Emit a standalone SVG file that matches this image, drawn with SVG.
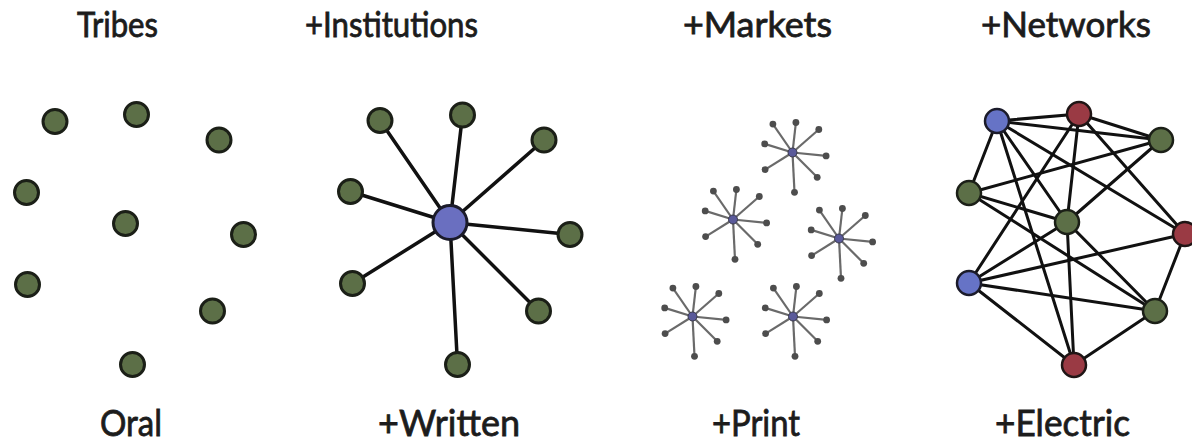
<svg xmlns="http://www.w3.org/2000/svg" width="1192" height="444" viewBox="0 0 1192 444">
<style>
.lbl{font-family:Lato,"Open Sans","Liberation Sans",sans-serif;fill:#1c1c1c;stroke:#1c1c1c;stroke-width:0.8;text-anchor:middle}
.top{font-size:34px}
.bot{font-size:37px}
.g{fill:#5c6f47;stroke:#1b1f17;stroke-width:3}
.b{fill:#6a6fc0;stroke:#1b1b2a;stroke-width:3}
.r{fill:#9a3a44;stroke:#1f1515;stroke-width:2.5}
.gn{fill:#5c6f47;stroke:#1b1f17;stroke-width:2.5}
.bn{fill:#6673c6;stroke:#1b1b2a;stroke-width:2.5}
.e{stroke:#111;stroke-width:3.5;stroke-linecap:round}
.en{stroke:#111;stroke-width:3;stroke-linecap:round}
.se{stroke:#6a6a6a;stroke-width:2.2}
.sd{fill:#4d4d4d}
.sc{fill:#5a5a9a;stroke:#3a3a4a;stroke-width:1}
</style>
<defs>
<g id="star">
<line class="se" x1="0" y1="0" x2="-19.6" y2="-28.4"/>
<line class="se" x1="0" y1="0" x2="3.4" y2="-30"/>
<line class="se" x1="0" y1="0" x2="26.3" y2="-23"/>
<line class="se" x1="0" y1="0" x2="-27.8" y2="-8.6"/>
<line class="se" x1="0" y1="0" x2="33.6" y2="3.4"/>
<line class="se" x1="0" y1="0" x2="-27.4" y2="17.1"/>
<line class="se" x1="0" y1="0" x2="24.7" y2="24.8"/>
<line class="se" x1="0" y1="0" x2="2" y2="39.8"/>
<circle class="sd" cx="-19.6" cy="-28.4" r="3.4"/>
<circle class="sd" cx="3.4" cy="-30" r="3.4"/>
<circle class="sd" cx="26.3" cy="-23" r="3.4"/>
<circle class="sd" cx="-27.8" cy="-8.6" r="3.4"/>
<circle class="sd" cx="33.6" cy="3.4" r="3.4"/>
<circle class="sd" cx="-27.4" cy="17.1" r="3.4"/>
<circle class="sd" cx="24.7" cy="24.8" r="3.4"/>
<circle class="sd" cx="2" cy="39.8" r="3.4"/>
<circle class="sc" cx="0" cy="0" r="4.5"/>
</g>
</defs>
<rect width="1192" height="444" fill="#fff"/>

<g id="labels">
<text class="lbl top" x="117.5" y="37" textLength="81" lengthAdjust="spacingAndGlyphs">Tribes</text>
<text class="lbl top" x="391.5" y="37" textLength="173" lengthAdjust="spacingAndGlyphs">+Institutions</text>
<text class="lbl top" x="757.5" y="37" textLength="149" lengthAdjust="spacingAndGlyphs">+Markets</text>
<text class="lbl top" x="1066" y="37" textLength="170" lengthAdjust="spacingAndGlyphs">+Networks</text>
<text class="lbl bot" x="131" y="436" textLength="62" lengthAdjust="spacingAndGlyphs">Oral</text>
<text class="lbl bot" x="449" y="436" textLength="142" lengthAdjust="spacingAndGlyphs">+Written</text>
<text class="lbl bot" x="756" y="436" textLength="88" lengthAdjust="spacingAndGlyphs">+Print</text>
<text class="lbl bot" x="1062.5" y="436" textLength="135" lengthAdjust="spacingAndGlyphs">+Electric</text>
</g>

<g id="tribes">
<circle class="g" cx="55" cy="121.5" r="12"/>
<circle class="g" cx="136.5" cy="114.5" r="12"/>
<circle class="g" cx="219" cy="140" r="12"/>
<circle class="g" cx="26.5" cy="192.5" r="12"/>
<circle class="g" cx="125.5" cy="223.5" r="12"/>
<circle class="g" cx="243.5" cy="234.5" r="12"/>
<circle class="g" cx="27.5" cy="284.5" r="12"/>
<circle class="g" cx="212.5" cy="311" r="12"/>
<circle class="g" cx="132.5" cy="364.5" r="12"/>
</g>

<g id="institutions-connectors">
<line class="e" x1="450" y1="222.5" x2="380" y2="120.5"/>
<line class="e" x1="450" y1="222.5" x2="462.5" y2="115"/>
<line class="e" x1="450" y1="222.5" x2="544" y2="140"/>
<line class="e" x1="450" y1="222.5" x2="350.5" y2="191.5"/>
<line class="e" x1="450" y1="222.5" x2="570" y2="234.5"/>
<line class="e" x1="450" y1="222.5" x2="352.5" y2="283.5"/>
<line class="e" x1="450" y1="222.5" x2="538.5" y2="311"/>
<line class="e" x1="450" y1="222.5" x2="457.5" y2="364.5"/>
</g>
<g id="institutions">
<circle class="g" cx="380" cy="120.5" r="12"/>
<circle class="g" cx="462.5" cy="115" r="12"/>
<circle class="g" cx="544" cy="140" r="12"/>
<circle class="g" cx="350.5" cy="191.5" r="12"/>
<circle class="g" cx="570" cy="234.5" r="12"/>
<circle class="g" cx="352.5" cy="283.5" r="12"/>
<circle class="g" cx="538.5" cy="311" r="12"/>
<circle class="g" cx="457.5" cy="364.5" r="12"/>
<circle class="b" cx="450" cy="222.5" r="17"/>
</g>

<g id="markets">
<use href="#star" x="792.5" y="152.5"/>
<use href="#star" x="733" y="219.5"/>
<use href="#star" x="839" y="238.5"/>
<use href="#star" x="692.5" y="316.5"/>
<use href="#star" x="793" y="316.5"/>
</g>

<g id="network-connectors">
<line class="en" x1="997" y1="121" x2="1079" y2="114"/>
<line class="en" x1="997" y1="121" x2="1161" y2="140"/>
<line class="en" x1="997" y1="121" x2="969" y2="193"/>
<line class="en" x1="997" y1="121" x2="1067" y2="222"/>
<line class="en" x1="997" y1="121" x2="1185" y2="234"/>
<line class="en" x1="997" y1="121" x2="1074" y2="365"/>
<line class="en" x1="1079" y1="114" x2="1161" y2="140"/>
<line class="en" x1="1079" y1="114" x2="1067" y2="222"/>
<line class="en" x1="1079" y1="114" x2="1185" y2="234"/>
<line class="en" x1="1079" y1="114" x2="969" y2="283"/>
<line class="en" x1="1161" y1="140" x2="969" y2="193"/>
<line class="en" x1="1161" y1="140" x2="1067" y2="222"/>
<line class="en" x1="969" y1="193" x2="1067" y2="222"/>
<line class="en" x1="969" y1="193" x2="1155" y2="311"/>
<line class="en" x1="1067" y1="222" x2="969" y2="283"/>
<line class="en" x1="1067" y1="222" x2="1155" y2="311"/>
<line class="en" x1="1067" y1="222" x2="1074" y2="365"/>
<line class="en" x1="1185" y1="234" x2="969" y2="283"/>
<line class="en" x1="1185" y1="234" x2="1155" y2="311"/>
<line class="en" x1="969" y1="283" x2="1155" y2="311"/>
<line class="en" x1="969" y1="283" x2="1074" y2="365"/>
<line class="en" x1="1155" y1="311" x2="1074" y2="365"/>
</g>
<g id="networks">
<circle class="bn" cx="997" cy="121" r="12"/>
<circle class="r" cx="1079" cy="114" r="12"/>
<circle class="gn" cx="1161" cy="140" r="12"/>
<circle class="gn" cx="969" cy="193" r="12"/>
<circle class="gn" cx="1067" cy="222" r="12"/>
<circle class="r" cx="1185" cy="234" r="12"/>
<circle class="bn" cx="969" cy="283" r="12"/>
<circle class="gn" cx="1155" cy="311" r="12"/>
<circle class="r" cx="1074" cy="365" r="12"/>
</g>
</svg>
